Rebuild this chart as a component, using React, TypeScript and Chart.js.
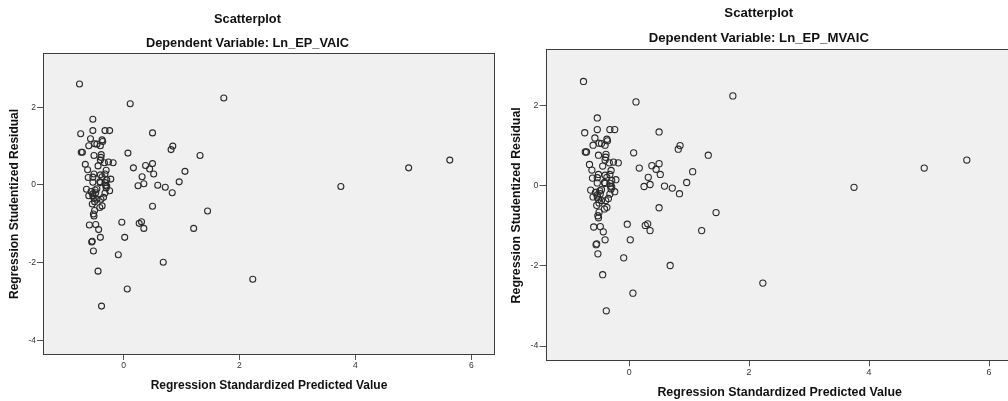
import { useEffect, useRef } from "react";
import { Chart, registerables } from "chart.js";

Chart.register(...registerables);

// Regression Standardized Predicted Value (x) and Regression Studentized Residual (y)
const predicted = [
  -0.76, 0.115, 1.73, -0.53, -0.74, -0.53, -0.32, -0.24, 0.5, -0.57,
  -0.37, -0.36, -0.6, -0.5, -0.46, -0.4, -0.73, -0.71, 0.076, 0.85,
  0.82, 1.32, -0.51, -0.385, -0.39, -0.4, -0.66, -0.44, -0.33, -0.26,
  -0.18, 0.17, 0.38, 0.45, 0.5, 0.52, 0.32, 1.06, -0.62, -0.3,
  -0.32, -0.51, -0.53, -0.61, -0.4, -0.37, -0.22, -0.29, -0.32, -0.53,
  -0.41, 0.25, 0.35, 0.59, 0.72, 0.96, 0.84, 3.75, 4.92, 5.63,
  -0.31, -0.3, -0.24, -0.32, -0.64, -0.56, -0.49, -0.46, -0.4, -0.48,
  -0.53, -0.6, -0.53, -0.51, -0.46, -0.39, -0.345, -0.29, -0.5, -0.54,
  -0.37, -0.41, -0.5, -0.52, -0.51, 0.5, -0.03, 0.27, 0.31, 0.35,
  -0.59, -0.48, -0.43, -0.4, 0.02, -0.55, -0.54, -0.52, -0.09, 0.685,
  -0.44, 0.064, -0.38, 2.23, 1.45, 1.21,
];
const residual = [
  2.6, 2.09, 2.24, 1.69, 1.32, 1.4, 1.4, 1.4, 1.34, 1.19,
  1.16, 1.12, 1.01, 1.06, 1.05, 1.01, 0.84, 0.84, 0.82, 1.0,
  0.91, 0.76, 0.76, 0.78, 0.71, 0.64, 0.53, 0.49, 0.57, 0.59,
  0.57, 0.44, 0.5, 0.41, 0.55, 0.28, 0.21, 0.35, 0.39, 0.38,
  0.28, 0.28, 0.2, 0.19, 0.26, 0.21, 0.15, 0.13, 0.06, 0.07,
  0.08, -0.02, 0.03, -0.01, -0.06, 0.08, -0.2, -0.04, 0.44, 0.64,
  -0.01, -0.08, -0.15, -0.21, -0.11, -0.17, -0.13, -0.1, 0.06, -0.2,
  -0.23, -0.28, -0.28, -0.34, -0.37, -0.37, -0.32, -0.03, -0.43, -0.49,
  -0.54, -0.58, -0.66, -0.75, -0.8, -0.55, -0.96, -0.99, -0.95, -1.12,
  -1.03, -1.02, -1.15, -1.35, -1.35, -1.47, -1.45, -1.7, -1.8, -1.99,
  -2.22, -2.68, -3.12, -2.43, -0.67, -1.12,
];

const xTicks = [0, 2, 4, 6];
const yTicks = [-4, -2, 0, 2];
const xMin = -1.39;
const xMax = 6.41;
const yMin = -4.38;
const yMax = 3.4;

const mainTitle = "Scatterplot";
const subTitles = ["Dependent Variable: Ln_EP_VAIC", "Dependent Variable: Ln_EP_MVAIC"];
const xAxisTitle = "Regression Standardized Predicted Value";
const yAxisTitle = "Regression Studentized Residual";

const FONT = "'Liberation Sans', Arial, sans-serif";

type PanelCfg = {
  left: number;
  width: number;
  padRight: number;
  yAxisWidth: number;
  xAxisHeight: number;
  titleSize: number;
  titlePadTop: number;
  titlePadBottom: number;
  subPadBottom: number;
  axisTitleSize: number;
  yTitlePad: number;
  xTitlePad: number;
  tickSize: number;
  tickLen: number;
  yTickPad: number;
  xTickPad: number;
  pointRadius: number;
};

const panels: PanelCfg[] = [
  {
    left: 0, width: 504, padRight: 9, yAxisWidth: 43, xAxisHeight: 46,
    titleSize: 12.8, titlePadTop: 11.3, titlePadBottom: 9.6, subPadBottom: 1.3,
    axisTitleSize: 12, yTitlePad: 7.8, xTitlePad: 8.5,
    tickSize: 8.5, tickLen: 6, yTickPad: 1, xTickPad: 0.3, pointRadius: 3,
  },
  {
    left: 504, width: 520, padRight: 10.4, yAxisWidth: 41.7, xAxisHeight: 39.7,
    titleSize: 13.2, titlePadTop: 5.1, titlePadBottom: 9.2, subPadBottom: 3.4,
    axisTitleSize: 12.4, yTitlePad: 5, xTitlePad: 1.1,
    tickSize: 8.8, tickLen: 6.2, yTickPad: 1.2, xTickPad: 0.6, pointRadius: 3.1,
  },
];

function Panel({ cfg, subtitle }: { cfg: PanelCfg; subtitle: string }) {
  const ref = useRef<HTMLCanvasElement>(null);
  useEffect(() => {
    if (!ref.current) return;
    const frame = {
      id: "plotFrame",
      beforeDraw(chart: any) {
        const { ctx, chartArea: a } = chart;
        ctx.save();
        ctx.fillStyle = "#f0f0f0";
        ctx.fillRect(a.left, a.top, a.right - a.left, a.bottom - a.top);
        ctx.restore();
      },
      afterDraw(chart: any) {
        const { ctx, chartArea: a } = chart;
        ctx.save();
        ctx.strokeStyle = "#3c3c3c";
        ctx.lineWidth = 1;
        const l = Math.round(a.left) + 0.5;
        const t = Math.round(a.top) + 0.5;
        const r = Math.round(a.right) - 0.5;
        const b = Math.round(a.bottom) - 0.5;
        ctx.strokeRect(l, t, r - l, b - t);
        ctx.restore();
      },
    };
    const tickFont = { family: FONT, size: cfg.tickSize };
    const axisTitleFont = { family: FONT, size: cfg.axisTitleSize, weight: "bold" as const };
    const chart = new Chart(ref.current, {
      type: "scatter",
      data: {
        datasets: [
          {
            data: predicted.map((x, i) => ({ x, y: residual[i] })),
            pointRadius: cfg.pointRadius,
            pointHoverRadius: cfg.pointRadius,
            borderWidth: 1.1,
            borderColor: "#2a2a2a",
            backgroundColor: "rgba(0,0,0,0)",
          },
        ],
      },
      options: {
        responsive: false,
        animation: false,
        devicePixelRatio: 1,
        events: [],
        layout: { padding: { left: 0, right: cfg.padRight, top: 0, bottom: 0 } },
        plugins: {
          legend: { display: false },
          tooltip: { enabled: false },
          title: {
            display: true,
            text: mainTitle,
            color: "#111",
            font: { family: FONT, size: cfg.titleSize, weight: "bold" },
            padding: { top: cfg.titlePadTop, bottom: cfg.titlePadBottom },
          },
          subtitle: {
            display: true,
            text: subtitle,
            color: "#111",
            font: { family: FONT, size: cfg.titleSize, weight: "bold" },
            padding: { top: 0, bottom: cfg.subPadBottom },
          },
        },
        scales: {
          x: {
            type: "linear",
            min: xMin,
            max: xMax,
            afterBuildTicks: (s: any) => {
              s.ticks = xTicks.map((v) => ({ value: v }));
            },
            afterFit: (s: any) => {
              s.height = cfg.xAxisHeight;
            },
            grid: { display: true, drawOnChartArea: false, drawTicks: true, tickLength: 5, color: "#555" },
            border: { display: false },
            ticks: { font: tickFont, color: "#333", padding: cfg.xTickPad, maxRotation: 0, autoSkip: false },
            title: {
              display: true,
              text: xAxisTitle,
              color: "#111",
              font: axisTitleFont,
              padding: { top: 0, bottom: cfg.xTitlePad },
            },
          },
          y: {
            type: "linear",
            min: yMin,
            max: yMax,
            afterBuildTicks: (s: any) => {
              s.ticks = yTicks.map((v) => ({ value: v }));
            },
            afterFit: (s: any) => {
              s.width = cfg.yAxisWidth;
            },
            grid: { display: true, drawOnChartArea: false, drawTicks: true, tickLength: cfg.tickLen, color: "#555" },
            border: { display: false },
            ticks: { font: tickFont, color: "#333", padding: cfg.yTickPad, autoSkip: false },
            title: {
              display: true,
              text: yAxisTitle,
              color: "#111",
              font: axisTitleFont,
              padding: { top: cfg.yTitlePad, bottom: 0 },
            },
          },
        },
      },
      plugins: [frame],
    } as any);
    return () => chart.destroy();
  }, [cfg, subtitle]);
  return (
    <canvas
      ref={ref}
      width={cfg.width}
      height={401}
      style={{ position: "absolute", left: cfg.left, top: 0, width: cfg.width, height: 401 }}
    />
  );
}

export default function App() {
  return (
    <div
      style={{
        position: "fixed",
        left: 0,
        top: 0,
        width: 1008,
        height: 401,
        overflow: "hidden",
        background: "#ffffff",
      }}
    >
      {panels.map((p, i) => (
        <Panel key={i} cfg={p} subtitle={subTitles[i]} />
      ))}
    </div>
  );
}
